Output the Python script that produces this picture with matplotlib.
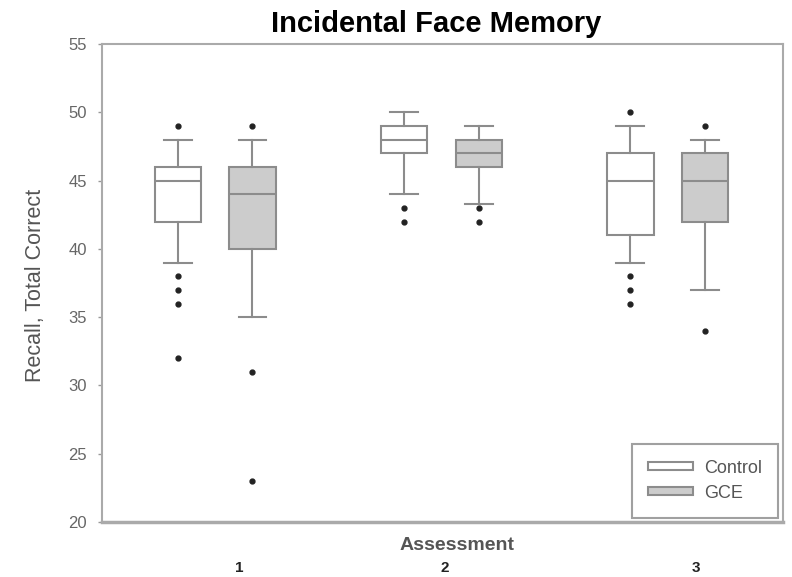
import matplotlib.pyplot as plt
from matplotlib.patches import Patch

# box statistics (per assessment 1, 2, 3)
ctrl_q1 = [42, 47, 41]
ctrl_med = [45, 48, 45]
ctrl_q3 = [46, 49, 47]
ctrl_lo = [39, 44, 39]
ctrl_hi = [48, 50, 49]
ctrl_out = [[49, 38, 37, 36, 32], [43, 42], [50, 38, 37, 36]]

gce_q1 = [40, 46, 42]
gce_med = [44, 47, 45]
gce_q3 = [46, 48, 47]
gce_lo = [35, 43.3, 37]
gce_hi = [48, 49, 48]
gce_out = [[49, 31, 23], [43, 42], [49, 34]]

groups = [1, 2, 3]
tick_pos = [1.106, 2.013, 3.124]
tick_labels = ['1', '2', '3']


def stats(q1, med, q3, lo, hi, out):
    return [dict(q1=a, med=b, q3=c, whislo=d, whishi=e, fliers=f)
            for a, b, c, d, e, f in zip(q1, med, q3, lo, hi, out)]


plt.rcParams['font.family'] = ['Liberation Sans', 'DejaVu Sans']

fig = plt.figure(figsize=(7.92, 5.77), dpi=100)
ax = fig.add_axes([0.1288, 0.0953, 0.86, 0.8284])

edge = '#8c8c8c'
off = 0.165
w = 0.205

for st, dx, fc in [(stats(ctrl_q1, ctrl_med, ctrl_q3, ctrl_lo, ctrl_hi, ctrl_out), -off, 'white'),
                   (stats(gce_q1, gce_med, gce_q3, gce_lo, gce_hi, gce_out), off, '#cccccc')]:
    ax.bxp(st, positions=[g + dx for g in groups], widths=w, patch_artist=True,
           showfliers=True, manage_ticks=False,
           boxprops=dict(facecolor=fc, edgecolor=edge, linewidth=1.5),
           medianprops=dict(color=edge, linewidth=1.5),
           whiskerprops=dict(color=edge, linewidth=1.5),
           capprops=dict(color=edge, linewidth=1.5),
           capwidths=w * 0.6,
           flierprops=dict(marker='o', markersize=3.5, markerfacecolor='#222222',
                           markeredgecolor='#222222'))

ax.set_xlim(0.5, 3.51)
ax.set_ylim(20, 55)
ax.set_yticks(range(20, 56, 5))
ax.set_xticks(tick_pos)
ax.set_xticklabels(tick_labels, fontweight='bold', fontsize=11, color='#222222')
ax.tick_params(axis='x', length=0, pad=28)
ax.tick_params(axis='y', length=3, width=1, color='#999999', labelsize=12,
               labelcolor='#666666', direction='out', pad=8)

for s in ax.spines.values():
    s.set_color('#aaaaaa')
    s.set_linewidth(1.5)
ax.spines['bottom'].set_linewidth(2.5)

ax.set_ylabel('Recall, Total Correct', fontsize=15.5, color='#555555')
ax.yaxis.set_label_coords(-0.082, 0.494)
ax.text(0.521, -0.032, 'Assessment', transform=ax.transAxes, ha='center', va='top',
        fontsize=14, fontweight='bold', color='#555555')
ax.set_title('Incidental Face Memory', fontsize=21, fontweight='bold', x=0.49, pad=9)

handles = [Patch(facecolor='white', edgecolor=edge, linewidth=1.5, label='Control'),
           Patch(facecolor='#cccccc', edgecolor=edge, linewidth=1.5, label='GCE')]
leg = ax.legend(handles=handles, loc='lower right', fontsize=13, handlelength=2.5,
                handleheight=0.3, handletextpad=0.6, fancybox=False, edgecolor='#888888',
                borderpad=0.9, labelspacing=0.45, borderaxespad=0,
                bbox_to_anchor=(0.993, 0.008))
leg.get_frame().set_linewidth(1.5)
for t in leg.get_texts():
    t.set_color('#555555')

fig.savefig('out.png', dpi=100)
